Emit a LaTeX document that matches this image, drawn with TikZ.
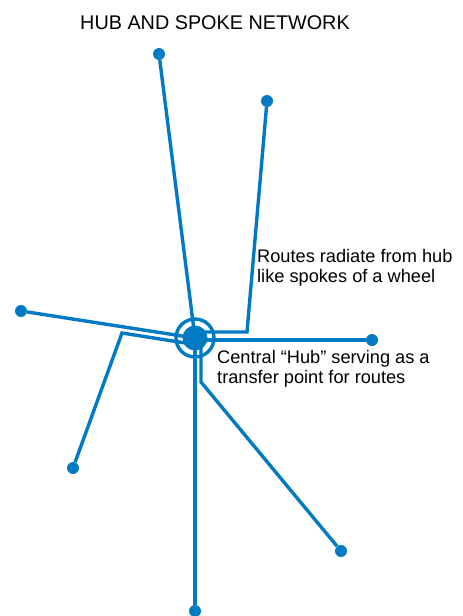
\documentclass[tikz,border=0pt]{standalone}
\usepackage{fontspec}
\setmainfont{Liberation Sans}
\definecolor{routeblue}{RGB}{0,122,194}
\begin{document}
\begin{tikzpicture}[x=1pt,y=-1pt,
  route/.style={draw=routeblue,line width=3.4pt},
  stop/.style={circle,fill=routeblue,inner sep=0pt,minimum size=12pt},
  note/.style={font=\fontsize{18.2}{20}\selectfont,align=left,inner sep=0pt,anchor=base west}]
\useasboundingbox(0,0)rectangle(463,616);
\node[font=\fontsize{19.8}{22}\selectfont,anchor=base](title)at(215,29){HUB AND SPOKE NETWORK};
\coordinate(hub)at(195,338);
% ends of the routes
\node[stop](a)at(159,54){};
\node[stop](b)at(267,101){};
\node[stop](c)at(372,340){};
\node[stop](d)at(21,311){};
\node[stop](e)at(73,468){};
\node[stop](f)at(341,551){};
\node[stop](g)at(195,611){};
% bends
\coordinate(kb)at(247,332);
\coordinate(kd)at(122,333);
\coordinate(ke)at(195,344.5);
\coordinate(kf)at(201,382);
\draw[route](a)--(hub);
\draw[route](b)--(kb)--(hub|-kb);
\draw[route](c)--(hub|-c);
\draw[route](d)--(hub);
\draw[route](e)--(kd)--(ke);
\draw[route](f)--(kf)--(kf|-hub);
\draw[route](g)--(hub);
% the hub
\node[circle,draw=routeblue,line width=3.4pt,minimum size=38pt,inner sep=0pt](ring)at(hub){};
\node[circle,fill=routeblue,minimum size=25pt,inner sep=0pt](centre)at(hub){};
\node[note](spokes)at(257,282){Routes radiate from hub\\like spokes of a wheel};
\node[note](central)at(217,383){Central “Hub” serving as a\\transfer point for routes};
\end{tikzpicture}
\end{document}
